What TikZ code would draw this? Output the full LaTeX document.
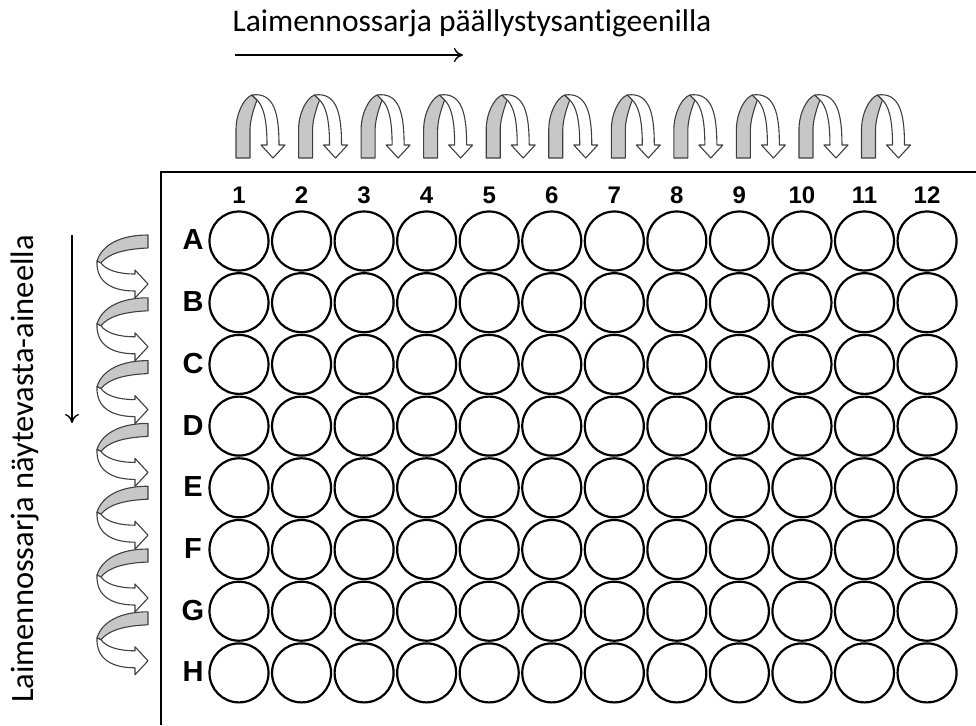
\documentclass[tikz,border=0pt]{standalone}
\usepackage{fontspec}
\usetikzlibrary{arrows.meta}
\setmainfont{Carlito}[Ligatures=CommonOff]
\newfontfamily\arialf{Liberation Sans}
\begin{document}
\begin{tikzpicture}[x=1pt,y=-1pt]
\tikzset{
  well/.style={circle, draw=black, line width=2.2pt, minimum size=59pt, inner sep=0pt},
  collabel/.style={font=\arialf\bfseries\fontsize{24}{24}\selectfont, anchor=base},
  rowlabel/.style={font=\arialf\bfseries\fontsize{29}{29}\selectfont},
  title/.style={font=\fontsize{31.5}{31.5}\selectfont, anchor=base, inner sep=0pt},
  grayband/.style={fill=black!22, draw=black!75, line width=1.1pt, line join=round},
  whiteband/.style={fill=white, draw=black!75, line width=1.1pt, line join=round},
  dirarrow/.style={-{To[length=9pt,width=14pt]}, line width=1.3pt}
}
\useasboundingbox (0,0) rectangle (976,725);
% titles
\node[title] (ttop) at (472,32) {Laimennossarja päällystysantigeenilla};
\node[title, rotate=90, font=\fontsize{32.5}{32.5}\selectfont] (tleft) at (33,469) {Laimennossarja näytevasta-aineella};
\coordinate (ha) at (235,55); \coordinate (hb) at (463,55);
\draw[dirarrow] (ha) -- (hb);
\coordinate (va) at (72,235); \coordinate (vb) at (72,423);
\draw[dirarrow] (va) -- (vb);
% plate
\coordinate (p1) at (976,172); \coordinate (p2) at (161,172); \coordinate (p3) at (161,725);
\draw[line width=2.5pt] (p1) -- (p2) -- (p3);
% wells
\foreach \c in {1,...,12} {
  \node[collabel] (c\c) at ({239+(\c-1)*62.55},203) {\c};
}
\foreach \r [count=\i] in {A,B,C,D,E,F,G,H} {
  \node[rowlabel] (r\r) at (193,{240+(\i-1)*61.7}) {\r};
  \foreach \c in {1,...,12} {
    \node[well] (w\r\c) at ({239+(\c-1)*62.55},{241+(\i-1)*61.7}) {};
  }
}
% top curved arrows
\foreach \k in {0,...,10} {
  \begin{scope}[shift={({236+\k*62.55},158)}]
    \draw[grayband] (0,0) -- (0,-28) .. controls (0,-45) and (8,-60) .. (16,-63)
      -- (21,-58) .. controls (16,-45) and (14,-35) .. (14,-28) -- (14,0) -- cycle;
    \draw[whiteband] (16,-63) .. controls (38,-66) and (43,-45) .. (43,-13)
      -- (49,-13) -- (37,0) -- (25,-13) -- (31,-13)
      .. controls (31,-40) and (27,-52) .. (21,-58) -- cycle;
  \end{scope}
}
% left curved arrows
\foreach \k in {0,...,6} {
  \begin{scope}[shift={(148,{235+\k*62.8})}]
    \draw[grayband] (0,0) .. controls (-28,0) and (-46,10) .. (-51,26)
      -- (-47,28) .. controls (-40,19) and (-25,14) .. (0,13) -- cycle;
    \draw[whiteband] (-51,26) .. controls (-52,48) and (-35,56) .. (-13,56)
      -- (-13,63) -- (0,49) -- (-13,35) -- (-13,39)
      .. controls (-30,39) and (-42,35) .. (-47,28) -- cycle;
  \end{scope}
}
\end{tikzpicture}
\end{document}
